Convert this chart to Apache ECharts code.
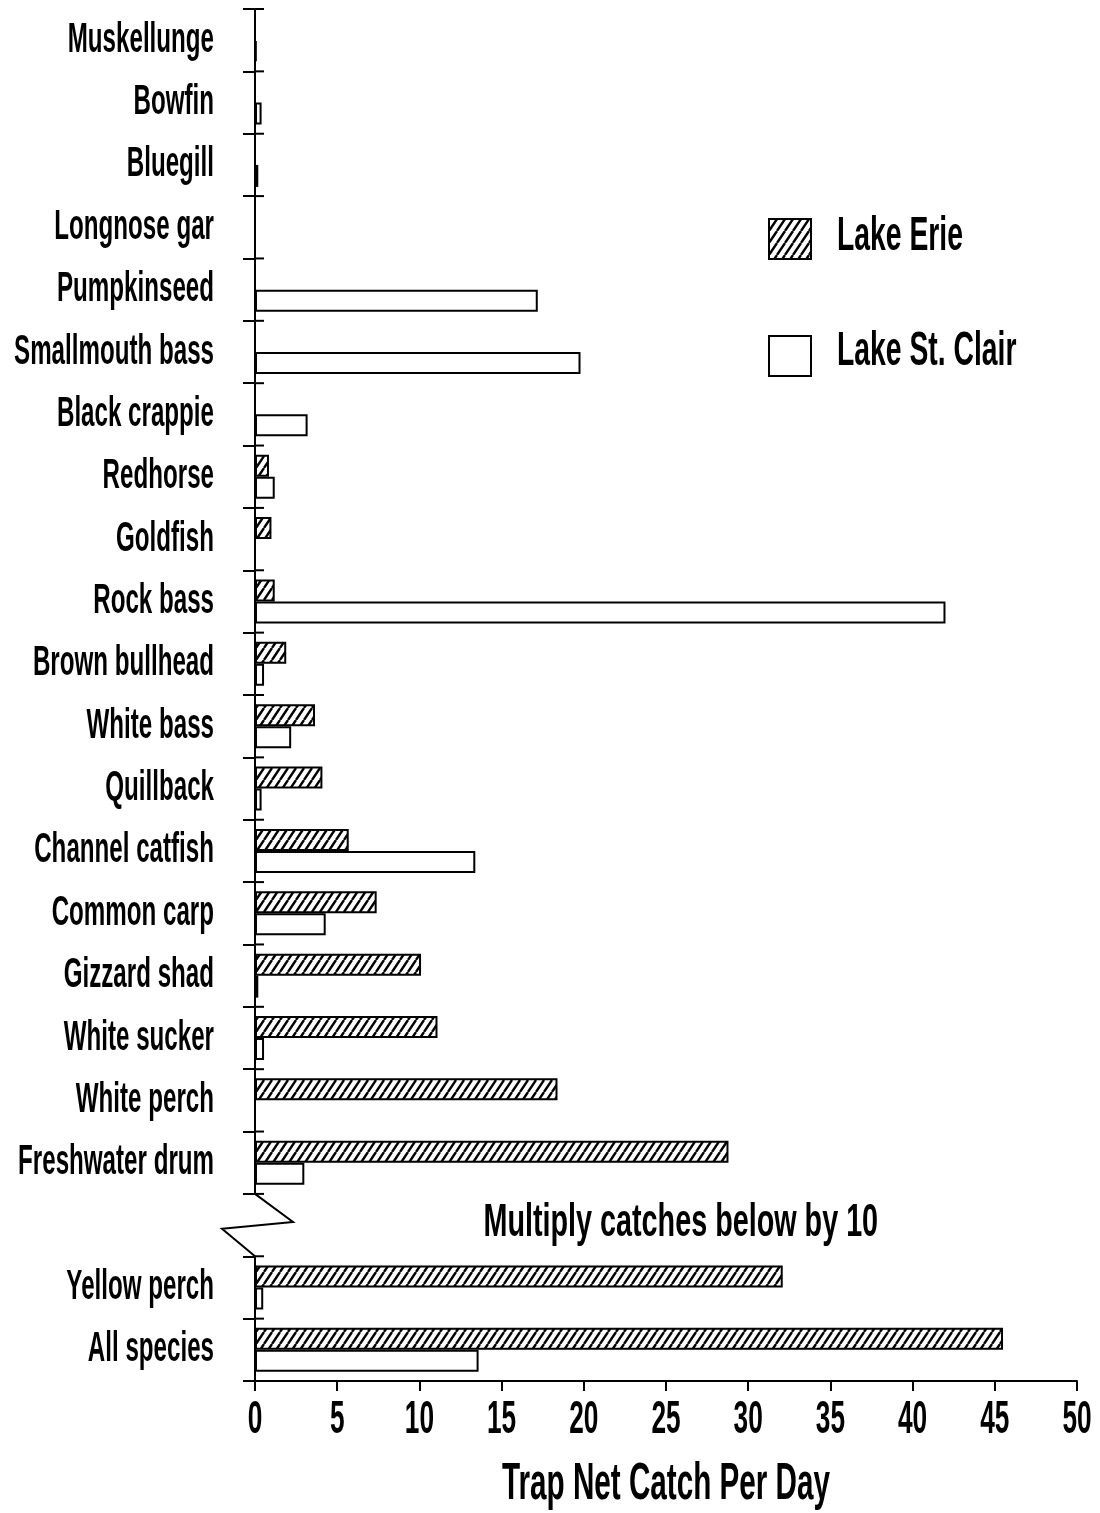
<!DOCTYPE html>
<html>
<head>
<meta charset="utf-8">
<script src="https://cdn.jsdelivr.net/npm/echarts@6/dist/echarts.min.js"></script>
<style>
  html, body { margin: 0; padding: 0; background: #fff; }
  #chart { width: 1100px; height: 1513px; }
</style>
</head>
<body>
<div id="chart"></div>
<script>
// categories top to bottom, '' is the axis break row
const categories = ['Muskellunge', 'Bowfin', 'Bluegill', 'Longnose gar', 'Pumpkinseed',
  'Smallmouth bass', 'Black crappie', 'Redhorse', 'Goldfish', 'Rock bass', 'Brown bullhead',
  'White bass', 'Quillback', 'Channel catfish', 'Common carp', 'Gizzard shad', 'White sucker',
  'White perch', 'Freshwater drum', '', 'Yellow perch', 'All species']
const lakeErie = [null, null, null, null, null, null, null, 0.85, 1.0, 1.2, 1.9,
  3.65, 4.1, 5.7, 7.4, 10.1, 11.1, 18.4, 28.8, null, 32.1, 45.5]
const lakeStClair = [0.1, 0.4, 0.2, null, 17.2, 19.8, 3.2, 1.2, null, 42.0, 0.55,
  2.2, 0.4, 13.4, 4.3, 0.2, 0.55, null, 3.0, null, 0.5, 13.6]
const seriesNames = ['Lake Erie', 'Lake St. Clair']
const xTicks = [0, 5, 10, 15, 20, 25, 30, 35, 40, 45, 50]
const breakIndex = 19
const breakNote = 'Multiply catches below by 10'
const axisTitle = 'Trap Net Catch Per Day'

const FONT = '"Liberation Sans", Arial, sans-serif'

// diagonal hatch for Lake Erie
function hatch() {
  const w = 8, h = 12
  const c = document.createElement('canvas')
  c.width = w
  c.height = h
  const ctx = c.getContext('2d')
  ctx.fillStyle = '#fff'
  ctx.fillRect(0, 0, w, h)
  ctx.strokeStyle = '#000'
  ctx.lineWidth = 2.4
  ctx.beginPath()
  for (let k = -1; k <= 1; k++) {
    ctx.moveTo(k * w, h)
    ctx.lineTo(k * w + w, 0)
  }
  ctx.stroke()
  return c
}

const chart = echarts.init(document.getElementById('chart'))

const option = {
  backgroundColor: '#fff',
  animation: false,
  grid: { left: 255, right: 23, top: 9, bottom: 132, outerBoundsMode: 'none' },
  legend: {
    orient: 'vertical',
    left: 768,
    top: 218,
    padding: 0,
    icon: 'rect',
    itemWidth: 42,
    itemHeight: 40,
    itemGap: 75,
    itemStyle: { borderColor: '#000', borderWidth: 2 },
    formatter: () => '', // names drawn condensed beside the icons below
    data: seriesNames
  },
  xAxis: {
    type: 'value',
    min: 0,
    max: 50,
    interval: 5,
    axisLine: { show: true, lineStyle: { color: '#000', width: 2 } },
    axisTick: { show: true, length: 10, lineStyle: { color: '#000', width: 2 } },
    axisLabel: { show: false },
    splitLine: { show: false }
  },
  yAxis: {
    type: 'category',
    inverse: true,
    data: categories,
    axisLine: { show: false },
    axisTick: { show: true, length: 12, lineStyle: { color: '#000', width: 2 } },
    axisLabel: { show: false }
  },
  series: [
    {
      name: seriesNames[0],
      type: 'bar',
      data: lakeErie,
      barWidth: 22,
      barGap: '0%',
      itemStyle: { color: { image: hatch(), repeat: 'repeat' }, borderColor: '#000', borderWidth: 2 }
    },
    {
      name: seriesNames[1],
      type: 'bar',
      data: lakeStClair,
      barWidth: 22,
      barGap: '0%',
      itemStyle: { color: '#fff', borderColor: '#000', borderWidth: 2 }
    }
  ]
}

chart.setOption(option)

// condensed text, scaled about its anchor point
function label(text, x, y, size, sx, align) {
  return {
    type: 'text', x: x, y: y, scaleX: sx,
    style: {
      text: text, fontFamily: FONT, fontWeight: 'bold', fontSize: size, fill: '#000',
      align: align, verticalAlign: 'middle'
    }
  }
}

// y axis line with the break zigzag, inner halves of ticks, and the labels
function drawAxisExtras() {
  const p0 = chart.convertToPixel({ yAxisIndex: 0 }, 0)
  const p1 = chart.convertToPixel({ yAxisIndex: 0 }, 1)
  const band = Math.abs(p1 - p0)
  const top = p0 - band / 2
  const bottom = top + band * categories.length
  const x0 = chart.convertToPixel({ xAxisIndex: 0 }, 0)
  const bTop = chart.convertToPixel({ yAxisIndex: 0 }, breakIndex) - band / 2
  const bBot = bTop + band
  const stroke = { stroke: '#000', lineWidth: 2 }
  const els = []

  els.push({ type: 'line', shape: { x1: x0, y1: top, x2: x0, y2: bTop }, style: stroke })
  els.push({
    type: 'polyline',
    shape: { points: [[x0, bTop], [x0 + 38, bTop + band * 0.45], [x0 - 33, bTop + band * 0.56], [x0, bBot]] },
    style: Object.assign({ fill: null }, stroke)
  })
  els.push({ type: 'line', shape: { x1: x0, y1: bBot, x2: x0, y2: bottom }, style: stroke })
  // x axis line runs a little past the y axis
  els.push({ type: 'line', shape: { x1: x0 - 12, y1: bottom, x2: x0, y2: bottom }, style: stroke })

  for (let k = 0; k <= categories.length; k++) {
    const y = top + k * band
    els.push({ type: 'line', shape: { x1: x0, y1: y, x2: x0 + 9, y2: y }, style: stroke })
  }

  categories.forEach((c, i) => {
    if (c) els.push(label(c, x0 - 41, chart.convertToPixel({ yAxisIndex: 0 }, i), 42, 0.575, 'right'))
  })

  xTicks.forEach(v => {
    const x = chart.convertToPixel({ xAxisIndex: 0 }, v)
    els.push(label(String(v), x, bottom + 39, 46, 0.57, 'center'))
  })

  const xMid = chart.convertToPixel({ xAxisIndex: 0 }, 25)
  els.push(label(axisTitle, xMid, bottom + 104, 52, 0.57, 'center'))
  els.push(label(breakNote, chart.convertToPixel({ xAxisIndex: 0 }, 25.9), (bTop + bBot) / 2 - 2, 46, 0.625, 'center'))

  // legend names next to the legend icons
  const lg = option.legend
  seriesNames.forEach((n, i) => {
    const yc = lg.top + i * (lg.itemHeight + lg.itemGap) + lg.itemHeight / 2
    els.push(label(n, lg.left + lg.itemWidth + 27, yc - 1, 48, 0.59, 'left'))
  })

  chart.setOption({ graphic: { elements: els } })
}

drawAxisExtras()
</script>
</body>
</html>
